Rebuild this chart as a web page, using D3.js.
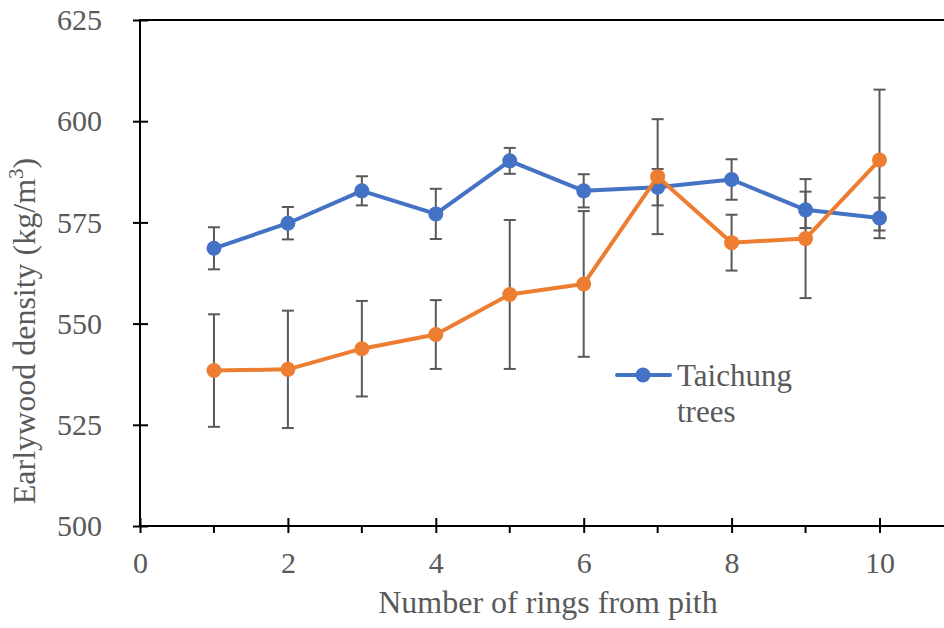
<!DOCTYPE html>
<html>
<head>
<meta charset="utf-8">
<script src="https://cdn.jsdelivr.net/npm/d3@7"></script>
<style>
  html, body { margin: 0; padding: 0; background: #fff; }
  svg { display: block; }
  text { font-family: "Liberation Serif", "Times New Roman", serif; fill: #595959; }
</style>
</head>
<body>
<svg id="chart" width="944" height="628"></svg>
<script>
// Ring number counted from the pith
const rings = [1, 2, 3, 4, 5, 6, 7, 8, 9, 10];

// Mean earlywood density (kg/m3) and its error (±) per ring
const taichungDensity = [568.6, 574.8, 582.8, 577.1, 590.2, 582.8, 583.7, 585.6, 578.1, 576.1];
const taichungError   = [5.2, 4.0, 3.6, 6.2, 3.2, 4.1, 4.5, 5.0, 4.5, 5.0];
const secondDensity   = [538.4, 538.7, 543.8, 547.3, 557.2, 559.8, 586.3, 570.0, 571.0, 590.4];
const secondError     = [13.9, 14.5, 11.8, 8.5, 18.4, 18.0, 14.2, 6.9, 14.7, 17.4];

const xTicks = [0, 2, 4, 6, 8, 10];
const xMinorTicks = [1, 3, 5, 7, 9];
const yTicks = [500, 525, 550, 575, 600, 625];

const legendLabel = ["Taichung", "trees"];
const xTitle = "Number of rings from pith";
const yTitle = "Earlywood density (kg/m";

const svg = d3.select("#chart");
const W = 944;
const plotLeft = 140, plotTop = 20, plotBottom = 526;

const x = d3.scaleLinear().domain([0, 10]).range([plotLeft, 879.5]);
const y = d3.scaleLinear().domain([500, 625]).range([plotBottom, plotTop]);

const series = [
  { values: taichungDensity, errors: taichungError, color: "#4472C4" },
  { values: secondDensity,   errors: secondError,   color: "#ED7D31" }
];

// Top frame line
svg.append("line")
  .attr("x1", plotLeft).attr("x2", W)
  .attr("y1", y(625)).attr("y2", y(625))
  .attr("stroke", "#000").attr("stroke-width", 2);

// Y axis: ticks crossing the axis line
const yAxis = svg.append("g")
  .attr("transform", `translate(${plotLeft},0)`)
  .call(d3.axisLeft(y).tickValues(yTicks).tickSize(0).tickPadding(38).tickFormat(d3.format("d")));
yAxis.select(".domain").remove();
yAxis.selectAll("text")
  .attr("font-size", 30)
  .attr("fill", "#595959");
yAxis.selectAll(".tick").append("line")
  .attr("x1", -7).attr("x2", 8)
  .attr("stroke", "#000").attr("stroke-width", 2);
svg.append("line")
  .attr("x1", plotLeft).attr("x2", plotLeft)
  .attr("y1", plotTop - 1).attr("y2", plotBottom + 1)
  .attr("stroke", "#000").attr("stroke-width", 2);

// X axis: major ticks cross, minor ticks hang below
const xAxis = svg.append("g")
  .attr("transform", `translate(0,${plotBottom})`)
  .call(d3.axisBottom(x).tickValues(xTicks).tickSize(0).tickPadding(26).tickFormat(d3.format("d")));
xAxis.select(".domain").remove();
xAxis.selectAll("text")
  .attr("font-size", 30)
  .attr("fill", "#595959");
xAxis.selectAll(".tick").append("line")
  .attr("y1", -8).attr("y2", 7)
  .attr("stroke", "#000").attr("stroke-width", 2);
svg.append("g").selectAll("line").data(xMinorTicks).join("line")
  .attr("x1", d => x(d)).attr("x2", d => x(d))
  .attr("y1", plotBottom).attr("y2", plotBottom + 7)
  .attr("stroke", "#000").attr("stroke-width", 2);
svg.append("line")
  .attr("x1", plotLeft - 1).attr("x2", W)
  .attr("y1", plotBottom).attr("y2", plotBottom)
  .attr("stroke", "#000").attr("stroke-width", 2);

// Error bars
const capHalf = 6;
series.forEach(s => {
  const g = svg.append("g").attr("stroke", "#595959").attr("stroke-width", 2);
  rings.forEach((r, i) => {
    const hi = y(s.values[i] + s.errors[i]);
    const lo = y(s.values[i] - s.errors[i]);
    const cx = x(r);
    g.append("line").attr("x1", cx).attr("x2", cx).attr("y1", hi).attr("y2", lo);
    g.append("line").attr("x1", cx - capHalf).attr("x2", cx + capHalf).attr("y1", hi).attr("y2", hi);
    g.append("line").attr("x1", cx - capHalf).attr("x2", cx + capHalf).attr("y1", lo).attr("y2", lo);
  });
});

// Lines and markers
const line = d3.line().x((d, i) => x(rings[i])).y(d => y(d));
series.forEach(s => {
  svg.append("path")
    .datum(s.values)
    .attr("d", line)
    .attr("fill", "none")
    .attr("stroke", s.color)
    .attr("stroke-width", 4)
    .attr("stroke-linejoin", "round");
  svg.append("g").selectAll("circle").data(s.values).join("circle")
    .attr("cx", (d, i) => x(rings[i]))
    .attr("cy", d => y(d))
    .attr("r", 7.5)
    .attr("fill", s.color);
});

// Legend
const lg = svg.append("g");
lg.append("line")
  .attr("x1", 617).attr("x2", 670).attr("y1", 375).attr("y2", 375)
  .attr("stroke", "#4472C4").attr("stroke-width", 4).attr("stroke-linecap", "round");
lg.append("circle").attr("cx", 643).attr("cy", 375).attr("r", 7.5).attr("fill", "#4472C4");
lg.selectAll("text").data(legendLabel).join("text")
  .attr("x", 677)
  .attr("y", (d, i) => 386 + i * 36)
  .attr("font-size", 31)
  .text(d => d);

// Axis titles
svg.append("text")
  .attr("x", 548).attr("y", 613)
  .attr("text-anchor", "middle")
  .attr("font-size", 32)
  .text(xTitle);

const yt = svg.append("text")
  .attr("transform", "translate(35,331) rotate(-90)")
  .attr("text-anchor", "middle")
  .attr("font-size", 32);
yt.append("tspan").text(yTitle);
yt.append("tspan").attr("dy", -12).attr("font-size", 21).text("3");
yt.append("tspan").attr("dy", 12).text(")");
</script>
</body>
</html>
